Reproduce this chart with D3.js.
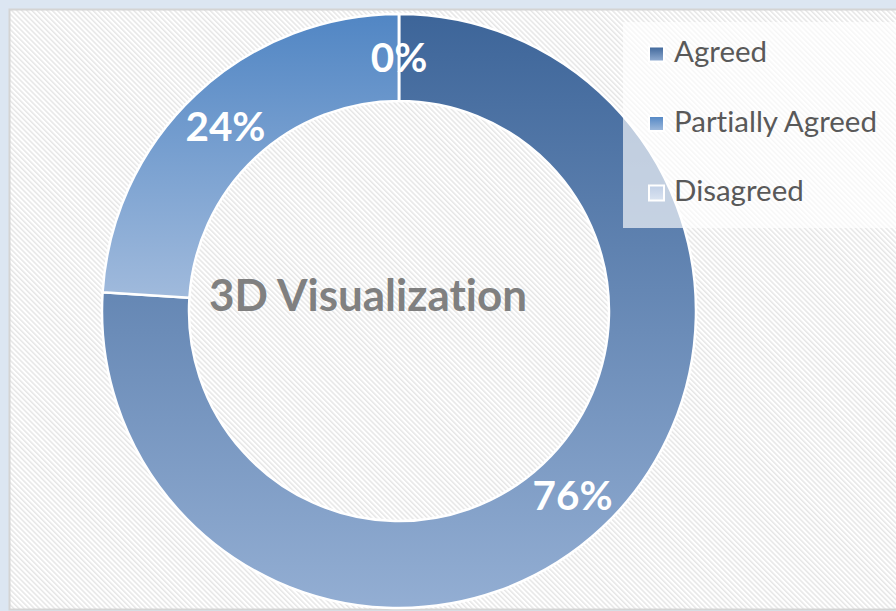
<!DOCTYPE html>
<html>
<head>
<meta charset="utf-8">
<script src="https://cdn.jsdelivr.net/npm/d3@7/dist/d3.min.js"></script>
<style>
html,body{margin:0;padding:0;background:#dce6f2;}
svg{display:block;}
text{font-variant-ligatures:none;font-feature-settings:"liga" 0, "clig" 0;}
</style>
</head>
<body>
<svg id="chart" width="896" height="611"></svg>
<script>
// ---- data ----
const categories = ["Agreed", "Partially Agreed", "Disagreed"];
const values = [76, 24, 0];
const labels = ["76%", "24%", "0%"];
const title = "3D Visualization";

// ---- styles ----
const gradTop = ["#3d6599", "#5186c4", "#c0cfe6"];
const gradBot = ["#93aed3", "#a0badc", "#dbe4f1"];
const FONT = "Lato, 'Open Sans', sans-serif";

const W = 896, H = 611;
const svg = d3.select("#chart");
const defs = svg.append("defs");

// hatch pattern
const pat = defs.append("pattern")
  .attr("id", "hatch").attr("patternUnits", "userSpaceOnUse")
  .attr("width", 3.6).attr("height", 3.6)
  .attr("patternTransform", "rotate(-45)");
pat.append("rect").attr("width", 3.6).attr("height", 3.6).attr("fill", "#ffffff");
pat.append("rect").attr("width", 1.5).attr("height", 3.6).attr("fill", "#e6e6e6");

categories.forEach((c, i) => {
  const g = defs.append("linearGradient").attr("id", "g" + i)
    .attr("x1", 0).attr("y1", 0).attr("x2", 0).attr("y2", 1);
  g.append("stop").attr("offset", "0%").attr("stop-color", gradTop[i]);
  g.append("stop").attr("offset", "100%").attr("stop-color", gradBot[i]);
});

// frame
svg.append("rect").attr("width", W).attr("height", H).attr("fill", "#dce6f2");
svg.append("rect").attr("x", 9.5).attr("y", 9.5).attr("width", W).attr("height", 600)
  .attr("fill", "url(#hatch)").attr("stroke", "#d4d4d4").attr("stroke-width", 2);

// donut
const cx = 399, cy = 311, Ro = 297, Ri = 210;
const pie = d3.pie().sort(null).value(d => d.v);
const arcs = pie(categories.map((c, i) => ({c, v: values[i], i})));
const arc = d3.arc().innerRadius(Ri).outerRadius(Ro);
const gDonut = svg.append("g").attr("transform", `translate(${cx},${cy})`);
gDonut.selectAll("path").data(arcs).join("path")
  .attr("d", arc)
  .attr("fill", d => `url(#g${d.data.i})`)
  .attr("stroke", "#ffffff").attr("stroke-width", 2.5)
  .attr("stroke-linejoin", "round");

// fit helper
function fitSize(str, weight, target, base) {
  const t = svg.append("text").attr("font-family", FONT).attr("font-weight", weight)
    .attr("font-size", base).text(str);
  const w = t.node().getComputedTextLength();
  t.remove();
  return base * target / w;
}

// data labels
const labSize = fitSize("24%", 700, 80, 40);
const labArc = d3.arc().innerRadius((Ri + Ro) / 2).outerRadius((Ri + Ro) / 2);
gDonut.selectAll("text.lab").data(arcs).join("text")
  .attr("class", "lab")
  .attr("transform", d => {
    const p = labArc.centroid(d);
    return `translate(${p[0]},${p[1]})`;
  })
  .attr("text-anchor", "middle").attr("dy", "0.36em")
  .attr("font-family", FONT).attr("font-weight", 700).attr("font-size", labSize)
  .attr("fill", "#ffffff")
  .text((d, i) => labels[i]);

// title
const tSize = fitSize(title, 700, 318, 46);
svg.append("text").attr("x", 368).attr("y", 311)
  .attr("text-anchor", "middle")
  .attr("font-family", FONT).attr("font-weight", 700).attr("font-size", tSize)
  .attr("fill", "#808080").text(title);

// legend
svg.append("rect").attr("x", 623).attr("y", 22).attr("width", 273).attr("height", 206)
  .attr("fill", "#ffffff").attr("fill-opacity", 0.65);
const legSize = fitSize("Partially Agreed", 400, 203, 30);
const leg = svg.append("g");
const rows = leg.selectAll("g").data(categories).join("g")
  .attr("transform", (d, i) => `translate(0,${54 + i * 69.5})`);
rows.append("rect").attr("x", 649).attr("y", -7.5).attr("width", 15).attr("height", 15)
  .attr("fill", (d, i) => `url(#g${i})`).attr("stroke", "#ffffff").attr("stroke-width", 2);
rows.append("text").attr("x", 674).attr("y", 8)
  .attr("font-family", FONT).attr("font-size", legSize).attr("fill", "#595959")
  .text(d => d);
</script>
</body>
</html>
